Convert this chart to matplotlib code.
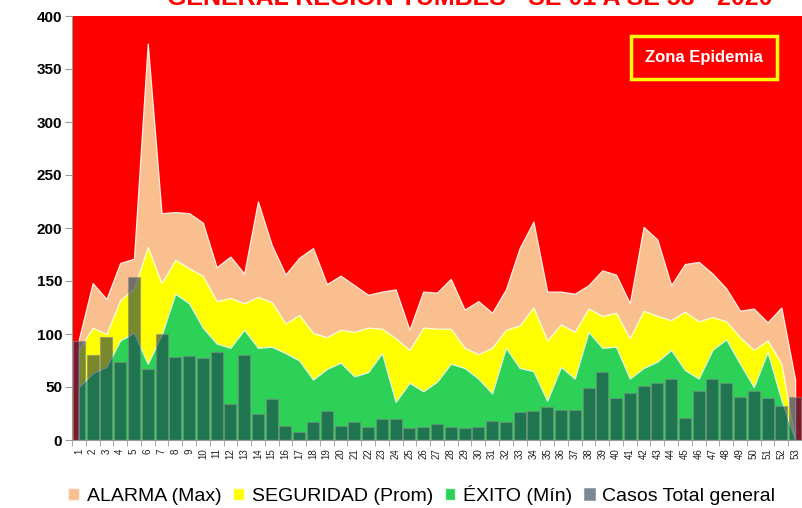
import numpy as np
import matplotlib.pyplot as plt
from matplotlib.patches import Rectangle

plt.rcParams['font.family'] = ['Liberation Sans', 'DejaVu Sans']

# semanas epidemiologicas 1..53
semanas = np.arange(1, 54)

# canal endemico
alarma = [95, 148, 133, 167, 171, 374, 214, 215, 214, 205,
          163, 173, 157, 225, 184, 156, 172, 181, 147, 155,
          146, 137, 140, 142, 104, 140, 139, 152, 123, 131,
          120, 142, 181, 206, 140, 140, 138, 146, 160, 156,
          129, 201, 189, 146, 166, 168, 157, 143, 122, 124,
          111, 125, 57]
seguridad = [85, 106, 100, 132, 143, 182, 148, 170, 162, 155,
             131, 134, 129, 135, 130, 110, 118, 101, 97, 104,
             102, 106, 105, 96, 85, 106, 105, 105, 87, 81,
             87, 104, 108, 125, 94, 109, 102, 124, 117, 120,
             96, 122, 117, 113, 121, 112, 116, 112, 97, 85,
             94, 72, 0]
exito = [50, 63, 69, 94, 101, 72, 99, 138, 129, 106,
         91, 87, 104, 87, 88, 82, 75, 57, 67, 73,
         60, 64, 82, 36, 54, 46, 55, 72, 68, 58,
         44, 87, 68, 65, 37, 69, 58, 102, 87, 88,
         58, 68, 74, 85, 66, 58, 85, 95, 72, 50,
         83, 38, 0]

# casos notificados 2020
casos = [93, 80, 97, 74, 154, 67, 100, 78, 79, 77,
         83, 34, 80, 25, 39, 13, 8, 17, 27, 13,
         17, 12, 20, 20, 11, 12, 15, 12, 11, 12,
         18, 17, 26, 27, 31, 28, 28, 49, 64, 40,
         44, 51, 54, 58, 21, 46, 58, 54, 41, 46,
         40, 32, 41]

yticks = np.arange(0, 401, 50)

fig = plt.figure(figsize=(8.02, 5.08), dpi=100)
ax = fig.add_axes([72 / 802, 68 / 508, 730 / 802, 424 / 508])
ax.set_facecolor('#FF0000')

ax.fill_between(semanas, 0, alarma, color='#F9BF8F', edgecolor='#FFF0E8', linewidth=0.9,
                label='ALARMA (Max)', zorder=2)
ax.fill_between(semanas, 0, seguridad, color='#FFFF00', edgecolor='#FFFFE0', linewidth=0.9,
                label='SEGURIDAD (Prom)', zorder=3)
ax.fill_between(semanas, 0, exito, color='#2DD157', edgecolor='#E0FFE8', linewidth=0.9,
                label=u'ÉXITO (Mín)', zorder=4)
ax.bar(semanas, casos, width=0.87, color='#18334D', alpha=0.58, edgecolor='#8A8A8A',
       linewidth=0.8, label='Casos Total general', zorder=5)

ax.set_xlim(0.5, 53.35)
ax.set_ylim(0, 400)

# etiquetas en el centro, marcas entre categorias
ax.set_xticks(semanas)
ax.set_xticklabels([str(s) for s in semanas], rotation=90, fontsize=7, color='#222222')
ax.set_xticks(np.arange(0.5, 54, 1), minor=True)
ax.tick_params(axis='x', which='major', length=0, pad=6)
ax.tick_params(axis='x', which='minor', length=4, color='#9A9A9A')

ax.set_yticks(yticks)
ax.set_yticklabels([str(v) for v in yticks], fontsize=11, fontweight='bold')
ax.tick_params(axis='y', length=5, color='#9A9A9A', pad=2)

for s in ['top', 'right']:
    ax.spines[s].set_visible(False)
for s in ['left', 'bottom']:
    ax.spines[s].set_color('#9A9A9A')
    ax.spines[s].set_zorder(6)

# recuadro zona epidemia
ax.add_patch(Rectangle((0.766, 0.851), 0.2, 0.102, transform=ax.transAxes,
                       facecolor='#FF0000', edgecolor='#FFFF00', linewidth=2.5, zorder=7))
ax.text(0.866, 0.902, 'Zona Epidemia', transform=ax.transAxes, color='white',
        fontsize=12, fontweight='bold', ha='center', va='center', zorder=8)

# titulo (segunda linea, queda recortada arriba)
fig.text(0.586, 0.991, 'GENERAL REGION TUMBES - SE 01 A SE 53 - 2020', color='#FF0000',
         fontsize=18, fontweight='bold', ha='center', va='baseline')

handles, labels = ax.get_legend_handles_labels()
fig.legend(handles, labels, loc='center', bbox_to_anchor=(0.526, 0.026), ncol=4,
           frameon=False, fontsize=14, handlelength=0.55, handleheight=0.55,
           handletextpad=0.4, columnspacing=0.6, borderaxespad=0)

fig.savefig('out.png', dpi=100)
